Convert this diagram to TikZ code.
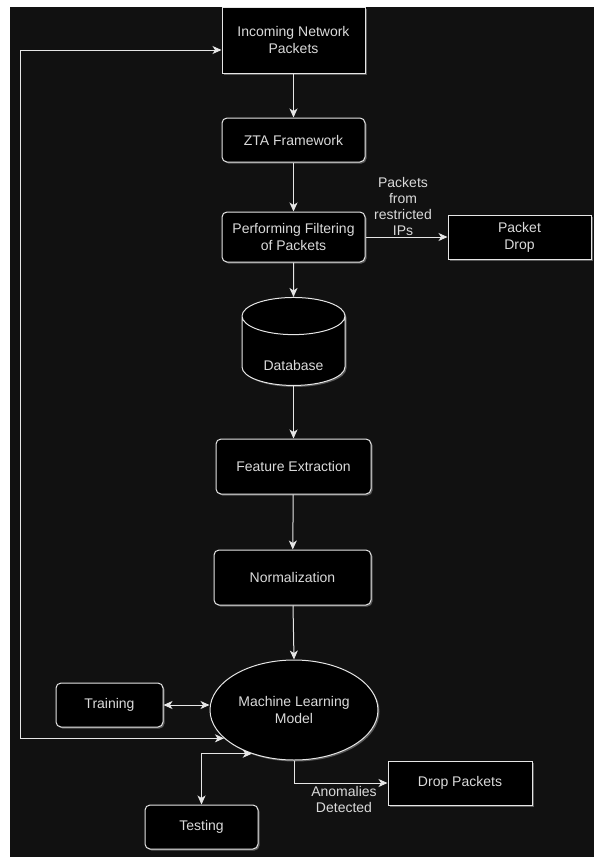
\documentclass[tikz,border=0pt]{standalone}
\usepackage{fontspec}
\setmainfont{Liberation Sans}
\usetikzlibrary{shapes.geometric,shadows,arrows.meta}
\definecolor{bgdark}{HTML}{111111}
\definecolor{edgegray}{HTML}{E6E6E6}
\definecolor{txtgray}{HTML}{DADADA}
\tikzset{
  glow/.style={drop shadow={shadow xshift=1.5pt,shadow yshift=-1.5pt,fill=white,opacity=0.3}},
  sqbox/.style={draw=edgegray, line width=1pt, fill=black, glow, text=txtgray,
    align=center, inner sep=0pt, font=\fontsize{14}{17}\selectfont},
  rbox/.style={sqbox, rounded corners=5pt},
  conn/.style={draw=edgegray, line width=1pt},
  lbl/.style={text=txtgray, align=center, font=\fontsize{14}{16}\selectfont}
}
\begin{document}
\begin{tikzpicture}[x=1pt, y=-1pt, >={Stealth[length=9pt,width=8pt,inset=2.5pt]}]
  \useasboundingbox (0,0) rectangle (594,857);
  \fill[white] (0,0) rectangle (594,857);
  \fill[bgdark] (10,7) rectangle (594,857);

  \node[sqbox, minimum width=143pt, minimum height=66pt] (inc) at (293.5,40) {Incoming Network\\Packets};
  \node[rbox, minimum width=143pt, minimum height=44pt] (zta) at (293.5,140) {ZTA Framework};
  \node[rbox, minimum width=143pt, minimum height=50pt] (filt) at (293.5,237) {Performing Filtering\\of Packets};
  \node[sqbox, minimum width=143pt, minimum height=44pt] (pdrop) at (519.5,237) {Packet\\Drop};
  \node[sqbox, cylinder, shape border rotate=90, aspect=0.62, minimum width=103pt,
    minimum height=88pt] (db) at (293.5,351) {\raisebox{-19pt}[0pt][0pt]{Database}};
  \node[rbox, minimum width=155pt, minimum height=55pt] (feat) at (293.5,466.5) {Feature Extraction};
  \node[rbox, minimum width=157pt, minimum height=55pt] (norm) at (292.5,577.5) {Normalization};
  \node[sqbox, ellipse, minimum width=168pt, minimum height=100pt] (ml) at (294,710) {Machine Learning\\Model};
  \node[rbox, minimum width=107pt, minimum height=44pt] (train) at (109.5,705) {Training};
  \node[rbox, minimum width=113pt, minimum height=44pt] (test) at (201.5,827) {Testing};
  \node[sqbox, minimum width=144pt, minimum height=44pt] (drop) at (460,783) {Drop Packets};

  \node[lbl] (restr) at (403,206) {Packets\\from\\restricted\\IPs};
  \node[lbl] (anom) at (344,799) {Anomalies\\Detected};
  \coordinate (loop) at (20,0);

  \draw[conn,->] (inc) -- (zta);
  \draw[conn,->] (zta) -- (filt);
  \draw[conn,->] (filt) -- (db.north);
  \draw[conn,->] (filt) -- (pdrop);
  \draw[conn,->] (db) -- (feat);
  \draw[conn,->] (feat) -- (norm);
  \draw[conn,->] (norm) -- (ml.north);
  \draw[conn,<->] (train.east) -- (train.east -| ml.west);
  \draw[conn,<->] (ml.202) -- (ml.202 -| loop) |- ([yshift=-10pt]inc.west);
  \draw[conn,<->] (test.north) |- (ml.226);
  \draw[conn,->] (ml.south) |- (drop.west);
\end{tikzpicture}
\end{document}
